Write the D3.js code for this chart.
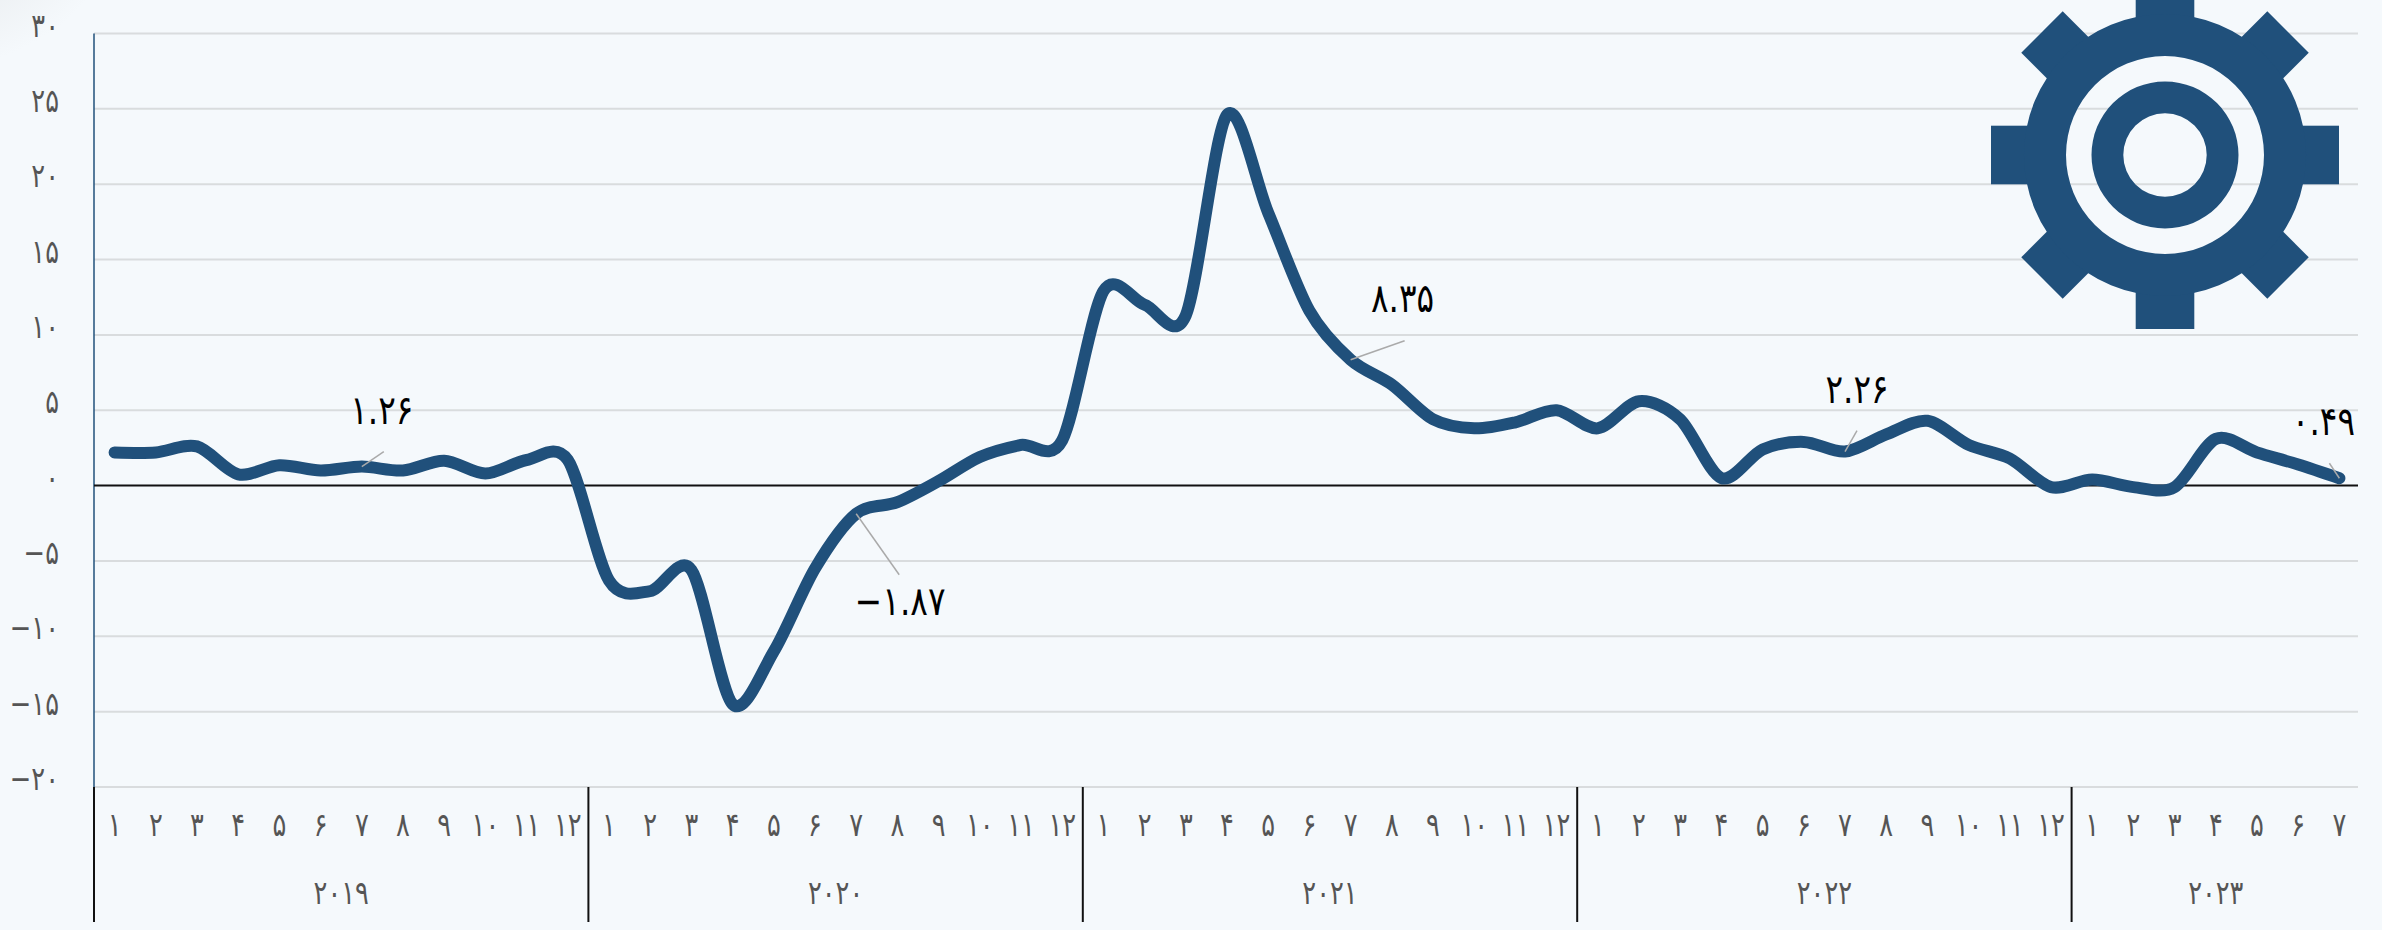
<!DOCTYPE html>
<html><head><meta charset="utf-8">
<script src="https://cdnjs.cloudflare.com/ajax/libs/d3/7.8.5/d3.min.js"></script>
<style>html,body{margin:0;padding:0;background:#f5f9fc;overflow:hidden}svg{display:block}
text{font-family:"DejaVu Sans",sans-serif;direction:ltr}</style></head><body>
<script>
const years=["۲۰۱۹","۲۰۲۰","۲۰۲۱","۲۰۲۲","۲۰۲۳"];
const monthsPerYear=[12,12,12,12,7];
const monthLabels=["۱","۲","۳","۴","۵","۶","۷","۸","۹","۱۰","۱۱","۱۲"];
const yTicks=[30,25,20,15,10,5,0,-5,-10,-15,-20];
const yTickLabels=["۳۰","۲۵","۲۰","۱۵","۱۰","۵","۰","−۵","−۱۰","−۱۵","−۲۰"];
const values=[2.2,2.2,2.6,0.75,1.35,1.0,1.26,1.0,1.65,0.8,1.7,1.7,
 -6.3,-7.0,-5.6,-14.5,-11,-5.5,-1.87,-1.1,0.3,1.9,2.7,3.0,
 12.9,12.0,11.3,24.6,18.1,11.6,8.35,6.7,4.4,3.8,4.2,5.0,
 3.8,5.6,4.4,0.5,2.4,2.9,2.26,3.4,4.3,2.7,1.8,-0.1,
 0.4,-0.1,-0.1,3.1,2.2,1.4,0.49];
const noteIdx=[6,18,30,42,54];
const noteText=["۱.۲۶","−۱.۸۷","۸.۳۵","۲.۲۶","۰.۴۹"];
const noteDx=[22,43,54,12,-10];
const noteDy=[-15,61,-19,-21,-15];
const noteTx=[20,44,52,12,-16];
const noteTy=[-57,87,-62,-63,-57];

const W=2382,H=930,L=94,R=2360,T=33.5,B=787;
const y=d3.scaleLinear().domain([30,-20]).range([T,B]);
const x=d3.scaleLinear().domain([0,55]).range([L,R]);
const svg=d3.select("body").append("svg").attr("width",W).attr("height",H);
const defs=svg.append("defs");
const g=defs.append("radialGradient").attr("id","corner").attr("cx",0).attr("cy",0).attr("r",1);
g.append("stop").attr("offset",0).attr("stop-color","#dfe1e3");
g.append("stop").attr("offset",1).attr("stop-color","#f5f9fc");
defs.append("clipPath").attr("id","plot").append("rect").attr("x",0).attr("y",0).attr("width",2358).attr("height",H);
svg.append("ellipse").attr("cx",0).attr("cy",0).attr("rx",120).attr("ry",80).attr("fill","url(#corner)");

function label(sel,px,py,size,fill,anchor,txt,sx){
 return sel.append("text").attr("transform",`translate(${px},${py}) scale(${sx},1)`)
  .attr("text-anchor",anchor).attr("font-size",size).attr("fill",fill).text(txt);
}
// grid
svg.append("g").selectAll("line").data(yTicks.filter(d=>d!==0)).join("line")
 .attr("x1",L).attr("x2",2358).attr("y1",d=>y(d)).attr("y2",d=>y(d))
 .attr("stroke","#d9dcde").attr("stroke-width",2);
// y labels
const yl=svg.append("g");
yTicks.forEach((t,i)=>label(yl,59,y(t)+3,33,"#555","end",yTickLabels[i],0.78));
// axis lines
svg.append("line").attr("x1",L).attr("x2",L).attr("y1",T).attr("y2",B).attr("stroke","#20507b").attr("stroke-width",1.5);
svg.append("line").attr("x1",L).attr("x2",2358).attr("y1",y(0)).attr("y2",y(0)).attr("stroke","#111").attr("stroke-width",2);

// gear
const gear=svg.append("g").attr("transform","translate(2165,155)").attr("fill","#20507b");
d3.range(8).forEach(k=>gear.append("rect").attr("x",110).attr("y",-29.3).attr("width",64).attr("height",58.6).attr("transform",`rotate(${k*45})`));
const ring=d3.arc().startAngle(0).endAngle(2*Math.PI);
gear.append("path").attr("d",ring({innerRadius:99,outerRadius:141}));
gear.append("path").attr("d",ring({innerRadius:41.7,outerRadius:73.5}));

// smooth spline with short handles
function softSpline(ctx){let pts=[];const h=0.3;return{
 lineStart(){pts=[]},
 point(a,b){pts.push([a,b])},
 lineEnd(){const cl=[],cr=[];
  pts.forEach((p,i)=>{
   if(i===0||i===pts.length-1){cl[i]=p.slice();cr[i]=p.slice();return;}
   const a=pts[i-1],c=pts[i+1],dx=(c[0]-a[0])/2,m=(c[1]-a[1])/2;
   cl[i]=[p[0]-h*dx,p[1]-h*m];cr[i]=[p[0]+h*dx,p[1]+h*m];});
  pts.forEach((p,i)=>{ if(i===0)ctx.moveTo(p[0],p[1]);
   else ctx.bezierCurveTo(cr[i-1][0],cr[i-1][1],cl[i][0],cl[i][1],p[0],p[1]);});
 }};}
const line=d3.line().x((d,i)=>x(i+0.5)).y(d=>y(d)).curve(softSpline);
svg.append("path").attr("d",line(values)).attr("fill","none").attr("stroke","#20507b")
 .attr("stroke-width",12).attr("stroke-linecap","round").attr("stroke-linejoin","round");

// notes
const notes=svg.append("g").attr("clip-path","url(#plot)");
noteIdx.forEach((ix,k)=>{const px=x(ix+0.5),py=y(values[ix]);
 notes.append("line").attr("x1",px).attr("y1",py).attr("x2",px+noteDx[k]).attr("y2",py+noteDy[k]).attr("stroke","#aaa").attr("stroke-width",1.5);
 label(notes,px+noteTx[k],py+noteTy[k]+14,40,"#000","middle",noteText[k],0.82);
});

// x axis
let start=0;
const xa=svg.append("g");
monthsPerYear.forEach((n,yi)=>{
 xa.append("line").attr("x1",x(start)).attr("x2",x(start)).attr("y1",B).attr("y2",922).attr("stroke","#111").attr("stroke-width",2);
 d3.range(n).forEach(m=>label(xa,x(start+m+0.5),836,33,"#555","middle",monthLabels[m],0.78));
 label(xa,x(start+n/2),904,33,"#555","middle",years[yi],0.78);
 start+=n;
});
</script></body></html>
